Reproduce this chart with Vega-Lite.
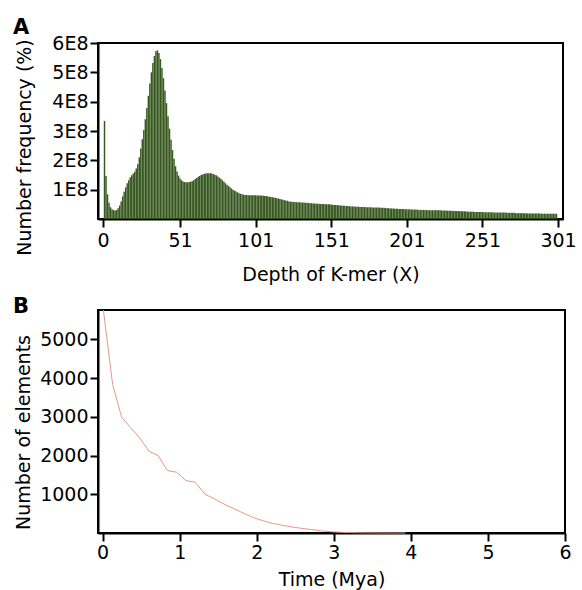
{
  "$schema": "https://vega.github.io/schema/vega-lite/v6.json",
  "padding": {"left": 12, "top": 16, "right": 0, "bottom": 0},
  "background": "white",
  "spacing": 10,
  "config": {
    "font": "DejaVu Sans",
    "view": {"stroke": "black", "strokeWidth": 2},
    "axis": {
      "grid": false,
      "domainColor": "black",
      "domainWidth": 2,
      "tickColor": "black",
      "tickWidth": 2,
      "tickSize": 8,
      "labelFont": "DejaVu Sans",
      "labelFontSize": 19,
      "labelColor": "black",
      "labelPadding": 2,
      "labelFlush": false,
      "titleFont": "DejaVu Sans",
      "titleFontSize": 19,
      "titleFontWeight": "normal",
      "titleColor": "black"
    },
    "title": {"font": "DejaVu Sans", "fontSize": 21, "fontWeight": "bold", "anchor": "start", "color": "black", "frame": "group"}
  },
  "vconcat": [
    {
      "width": 465,
      "height": 176,
      "title": {"text": "A", "dx": -85, "offset": -4},
      "data": {"values": [
        {"depth":1,"freq":3.34e8},{"depth":2,"freq":1.47e8},{"depth":3,"freq":0.84e8},{"depth":4,"freq":0.55e8},{"depth":5,"freq":0.40e8},
        {"depth":6,"freq":0.33e8},{"depth":7,"freq":0.30e8},{"depth":8,"freq":0.29e8},{"depth":9,"freq":0.31e8},{"depth":10,"freq":0.37e8},
        {"depth":11,"freq":0.46e8},{"depth":12,"freq":0.60e8},{"depth":13,"freq":0.77e8},{"depth":14,"freq":0.93e8},{"depth":15,"freq":1.08e8},
        {"depth":16,"freq":1.22e8},{"depth":17,"freq":1.32e8},{"depth":18,"freq":1.42e8},{"depth":19,"freq":1.49e8},{"depth":20,"freq":1.55e8},
        {"depth":21,"freq":1.61e8},{"depth":22,"freq":1.72e8},{"depth":23,"freq":1.87e8},{"depth":24,"freq":2.10e8},{"depth":25,"freq":2.40e8},
        {"depth":26,"freq":2.72e8},{"depth":27,"freq":3.03e8},{"depth":28,"freq":3.40e8},{"depth":29,"freq":3.78e8},{"depth":30,"freq":4.20e8},
        {"depth":31,"freq":4.62e8},{"depth":32,"freq":5.00e8},{"depth":33,"freq":5.32e8},{"depth":34,"freq":5.56e8},{"depth":35,"freq":5.72e8},
        {"depth":36,"freq":5.75e8},{"depth":37,"freq":5.66e8},{"depth":38,"freq":5.45e8},{"depth":39,"freq":5.15e8},{"depth":40,"freq":4.80e8},
        {"depth":41,"freq":4.38e8},{"depth":42,"freq":3.95e8},{"depth":43,"freq":3.50e8},{"depth":44,"freq":3.08e8},{"depth":45,"freq":2.70e8},
        {"depth":46,"freq":2.35e8},{"depth":47,"freq":2.05e8},{"depth":48,"freq":1.80e8},{"depth":49,"freq":1.62e8},{"depth":50,"freq":1.48e8},
        {"depth":51,"freq":1.38e8},{"depth":52,"freq":1.32e8},{"depth":53,"freq":1.28e8},{"depth":54,"freq":1.26e8},{"depth":55,"freq":1.25e8},
        {"depth":56,"freq":1.25e8},{"depth":57,"freq":1.26e8},{"depth":58,"freq":1.27e8},{"depth":59,"freq":1.29e8},{"depth":60,"freq":1.32e8},
        {"depth":61,"freq":1.36e8},{"depth":62,"freq":1.40e8},{"depth":63,"freq":1.44e8},{"depth":64,"freq":1.47e8},{"depth":65,"freq":1.50e8},
        {"depth":66,"freq":1.52e8},{"depth":67,"freq":1.54e8},{"depth":68,"freq":1.55e8},{"depth":69,"freq":1.56e8},{"depth":70,"freq":1.56e8},
        {"depth":71,"freq":1.56e8},{"depth":72,"freq":1.55e8},{"depth":73,"freq":1.53e8},{"depth":74,"freq":1.51e8},{"depth":75,"freq":1.49e8},
        {"depth":76,"freq":1.45e8},{"depth":77,"freq":1.41e8},{"depth":78,"freq":1.37e8},{"depth":79,"freq":1.32e8},{"depth":80,"freq":1.27e8},
        {"depth":81,"freq":1.22e8},{"depth":82,"freq":1.17e8},{"depth":83,"freq":1.13e8},{"depth":84,"freq":1.08e8},{"depth":85,"freq":1.04e8},
        {"depth":86,"freq":1.00e8},{"depth":87,"freq":0.97e8},{"depth":88,"freq":0.94e8},{"depth":89,"freq":0.91e8},{"depth":90,"freq":0.88e8},
        {"depth":91,"freq":0.86e8},{"depth":92,"freq":0.84e8},{"depth":93,"freq":0.83e8},{"depth":94,"freq":0.82e8},{"depth":95,"freq":0.82e8},
        {"depth":96,"freq":0.81e8},{"depth":97,"freq":0.81e8},{"depth":98,"freq":0.81e8},{"depth":99,"freq":0.81e8},{"depth":100,"freq":0.81e8},
        {"depth":101,"freq":0.81e8},{"depth":102,"freq":0.80e8},{"depth":103,"freq":0.80e8},{"depth":104,"freq":0.80e8},{"depth":105,"freq":0.80e8},
        {"depth":106,"freq":0.79e8},{"depth":107,"freq":0.78e8},{"depth":108,"freq":0.78e8},{"depth":109,"freq":0.77e8},{"depth":110,"freq":0.76e8},
        {"depth":111,"freq":0.75e8},{"depth":112,"freq":0.74e8},{"depth":113,"freq":0.73e8},{"depth":114,"freq":0.72e8},{"depth":115,"freq":0.71e8},
        {"depth":116,"freq":0.70e8},{"depth":117,"freq":0.68e8},{"depth":118,"freq":0.67e8},{"depth":119,"freq":0.66e8},{"depth":120,"freq":0.64e8},
        {"depth":121,"freq":0.63e8},{"depth":122,"freq":0.62e8},{"depth":123,"freq":0.60e8},{"depth":124,"freq":0.59e8},{"depth":125,"freq":0.59e8},
        {"depth":126,"freq":0.58e8},{"depth":127,"freq":0.58e8},{"depth":128,"freq":0.57e8},{"depth":129,"freq":0.57e8},{"depth":130,"freq":0.57e8},
        {"depth":131,"freq":0.56e8},{"depth":132,"freq":0.56e8},{"depth":133,"freq":0.56e8},{"depth":134,"freq":0.55e8},{"depth":135,"freq":0.55e8},
        {"depth":136,"freq":0.55e8},{"depth":137,"freq":0.54e8},{"depth":138,"freq":0.54e8},{"depth":139,"freq":0.53e8},{"depth":140,"freq":0.53e8},
        {"depth":141,"freq":0.52e8},{"depth":142,"freq":0.52e8},{"depth":143,"freq":0.52e8},{"depth":144,"freq":0.51e8},{"depth":145,"freq":0.51e8},
        {"depth":146,"freq":0.51e8},{"depth":147,"freq":0.50e8},{"depth":148,"freq":0.50e8},{"depth":149,"freq":0.50e8},{"depth":150,"freq":0.50e8},
        {"depth":151,"freq":0.49e8},{"depth":152,"freq":0.49e8},{"depth":153,"freq":0.48e8},{"depth":154,"freq":0.48e8},{"depth":155,"freq":0.47e8},
        {"depth":156,"freq":0.47e8},{"depth":157,"freq":0.46e8},{"depth":158,"freq":0.46e8},{"depth":159,"freq":0.45e8},{"depth":160,"freq":0.45e8},
        {"depth":161,"freq":0.44e8},{"depth":162,"freq":0.44e8},{"depth":163,"freq":0.44e8},{"depth":164,"freq":0.43e8},{"depth":165,"freq":0.43e8},
        {"depth":166,"freq":0.43e8},{"depth":167,"freq":0.42e8},{"depth":168,"freq":0.42e8},{"depth":169,"freq":0.42e8},{"depth":170,"freq":0.41e8},
        {"depth":171,"freq":0.41e8},{"depth":172,"freq":0.41e8},{"depth":173,"freq":0.41e8},{"depth":174,"freq":0.40e8},{"depth":175,"freq":0.40e8},
        {"depth":176,"freq":0.40e8},{"depth":177,"freq":0.40e8},{"depth":178,"freq":0.39e8},{"depth":179,"freq":0.39e8},{"depth":180,"freq":0.39e8},
        {"depth":181,"freq":0.39e8},{"depth":182,"freq":0.39e8},{"depth":183,"freq":0.39e8},{"depth":184,"freq":0.38e8},{"depth":185,"freq":0.38e8},
        {"depth":186,"freq":0.38e8},{"depth":187,"freq":0.37e8},{"depth":188,"freq":0.37e8},{"depth":189,"freq":0.37e8},{"depth":190,"freq":0.36e8},
        {"depth":191,"freq":0.36e8},{"depth":192,"freq":0.36e8},{"depth":193,"freq":0.35e8},{"depth":194,"freq":0.35e8},{"depth":195,"freq":0.35e8},
        {"depth":196,"freq":0.34e8},{"depth":197,"freq":0.34e8},{"depth":198,"freq":0.34e8},{"depth":199,"freq":0.34e8},{"depth":200,"freq":0.33e8},
        {"depth":201,"freq":0.33e8},{"depth":202,"freq":0.33e8},{"depth":203,"freq":0.33e8},{"depth":204,"freq":0.32e8},{"depth":205,"freq":0.32e8},
        {"depth":206,"freq":0.32e8},{"depth":207,"freq":0.32e8},{"depth":208,"freq":0.32e8},{"depth":209,"freq":0.31e8},{"depth":210,"freq":0.31e8},
        {"depth":211,"freq":0.31e8},{"depth":212,"freq":0.31e8},{"depth":213,"freq":0.31e8},{"depth":214,"freq":0.31e8},{"depth":215,"freq":0.30e8},
        {"depth":216,"freq":0.30e8},{"depth":217,"freq":0.30e8},{"depth":218,"freq":0.30e8},{"depth":219,"freq":0.30e8},{"depth":220,"freq":0.30e8},
        {"depth":221,"freq":0.30e8},{"depth":222,"freq":0.30e8},{"depth":223,"freq":0.30e8},{"depth":224,"freq":0.29e8},{"depth":225,"freq":0.29e8},
        {"depth":226,"freq":0.29e8},{"depth":227,"freq":0.29e8},{"depth":228,"freq":0.28e8},{"depth":229,"freq":0.28e8},{"depth":230,"freq":0.28e8},
        {"depth":231,"freq":0.28e8},{"depth":232,"freq":0.27e8},{"depth":233,"freq":0.27e8},{"depth":234,"freq":0.27e8},{"depth":235,"freq":0.27e8},
        {"depth":236,"freq":0.26e8},{"depth":237,"freq":0.26e8},{"depth":238,"freq":0.26e8},{"depth":239,"freq":0.26e8},{"depth":240,"freq":0.26e8},
        {"depth":241,"freq":0.25e8},{"depth":242,"freq":0.25e8},{"depth":243,"freq":0.25e8},{"depth":244,"freq":0.25e8},{"depth":245,"freq":0.25e8},
        {"depth":246,"freq":0.24e8},{"depth":247,"freq":0.24e8},{"depth":248,"freq":0.24e8},{"depth":249,"freq":0.24e8},{"depth":250,"freq":0.24e8},
        {"depth":251,"freq":0.24e8},{"depth":252,"freq":0.23e8},{"depth":253,"freq":0.23e8},{"depth":254,"freq":0.23e8},{"depth":255,"freq":0.23e8},
        {"depth":256,"freq":0.23e8},{"depth":257,"freq":0.23e8},{"depth":258,"freq":0.23e8},{"depth":259,"freq":0.22e8},{"depth":260,"freq":0.22e8},
        {"depth":261,"freq":0.22e8},{"depth":262,"freq":0.22e8},{"depth":263,"freq":0.22e8},{"depth":264,"freq":0.22e8},{"depth":265,"freq":0.22e8},
        {"depth":266,"freq":0.22e8},{"depth":267,"freq":0.21e8},{"depth":268,"freq":0.21e8},{"depth":269,"freq":0.21e8},{"depth":270,"freq":0.21e8},
        {"depth":271,"freq":0.21e8},{"depth":272,"freq":0.21e8},{"depth":273,"freq":0.20e8},{"depth":274,"freq":0.20e8},{"depth":275,"freq":0.20e8},
        {"depth":276,"freq":0.20e8},{"depth":277,"freq":0.20e8},{"depth":278,"freq":0.20e8},{"depth":279,"freq":0.20e8},{"depth":280,"freq":0.20e8},
        {"depth":281,"freq":0.19e8},{"depth":282,"freq":0.19e8},{"depth":283,"freq":0.19e8},{"depth":284,"freq":0.19e8},{"depth":285,"freq":0.19e8},
        {"depth":286,"freq":0.19e8},{"depth":287,"freq":0.19e8},{"depth":288,"freq":0.19e8},{"depth":289,"freq":0.19e8},{"depth":290,"freq":0.18e8},
        {"depth":291,"freq":0.18e8},{"depth":292,"freq":0.18e8},{"depth":293,"freq":0.18e8},{"depth":294,"freq":0.18e8},{"depth":295,"freq":0.18e8},
        {"depth":296,"freq":0.18e8},{"depth":297,"freq":0.18e8},{"depth":298,"freq":0.18e8},{"depth":299,"freq":0.18e8},{"depth":300,"freq":0.18e8}
      ]},
      "mark": {"type": "bar", "width": 1.45, "color": "#37581f"},
      "encoding": {
        "x": {"field": "depth", "type": "quantitative",
              "scale": {"domain": [0, 301], "nice": false, "zero": false},
              "axis": {"values": [0, 51, 101, 151, 201, 251, 301], "title": "Depth of K-mer (X)", "labelPadding": 4, "titlePadding": 15}},
        "y": {"field": "freq", "type": "quantitative",
              "scale": {"domain": [0, 600000000], "nice": false},
              "axis": {"values": [100000000, 200000000, 300000000, 400000000, 500000000, 600000000],
                       "labelExpr": "round(datum.value / 100000000) + 'E8'",
                       "title": "Number frequency (%)", "titlePadding": 17, "titleY": 104}}
      }
    },
    {
      "width": 467,
      "height": 223,
      "title": {"text": "B", "dx": -85, "offset": -9},
      "data": {"values": [
        {"time":0.01,"count":5760},{"time":0.13,"count":3834},{"time":0.246,"count":2995},{"time":0.36,"count":2730},
        {"time":0.475,"count":2469},{"time":0.605,"count":2106},{"time":0.72,"count":2003},{"time":0.84,"count":1614},
        {"time":0.96,"count":1570},{"time":1.08,"count":1355},{"time":1.2,"count":1311},{"time":1.33,"count":1000},
        {"time":1.45,"count":880},{"time":1.58,"count":741},{"time":1.71,"count":622},{"time":1.84,"count":500},
        {"time":1.96,"count":396},{"time":2.09,"count":311},{"time":2.22,"count":241},{"time":2.34,"count":195},
        {"time":2.46,"count":155},{"time":2.58,"count":120},{"time":2.71,"count":90},{"time":2.83,"count":58},
        {"time":2.95,"count":35},{"time":3.07,"count":20},{"time":3.2,"count":11},{"time":3.32,"count":6},
        {"time":3.44,"count":4},{"time":3.56,"count":2},{"time":3.69,"count":1},{"time":3.81,"count":0},{"time":3.93,"count":0}
      ]},
      "mark": {"type": "line", "color": "#e49a8a", "strokeWidth": 1},
      "encoding": {
        "x": {"field": "time", "type": "quantitative",
              "scale": {"domain": [-0.06, 6], "nice": false, "zero": false},
              "axis": {"values": [0, 1, 2, 3, 4, 5, 6], "title": "Time (Mya)", "titlePadding": 8}},
        "y": {"field": "count", "type": "quantitative",
              "scale": {"domain": [0, 5760], "nice": false},
              "axis": {"values": [1000, 2000, 3000, 4000, 5000], "format": "d", "title": "Number of elements", "titlePadding": 6, "titleY": 122}}
      }
    }
  ]
}
